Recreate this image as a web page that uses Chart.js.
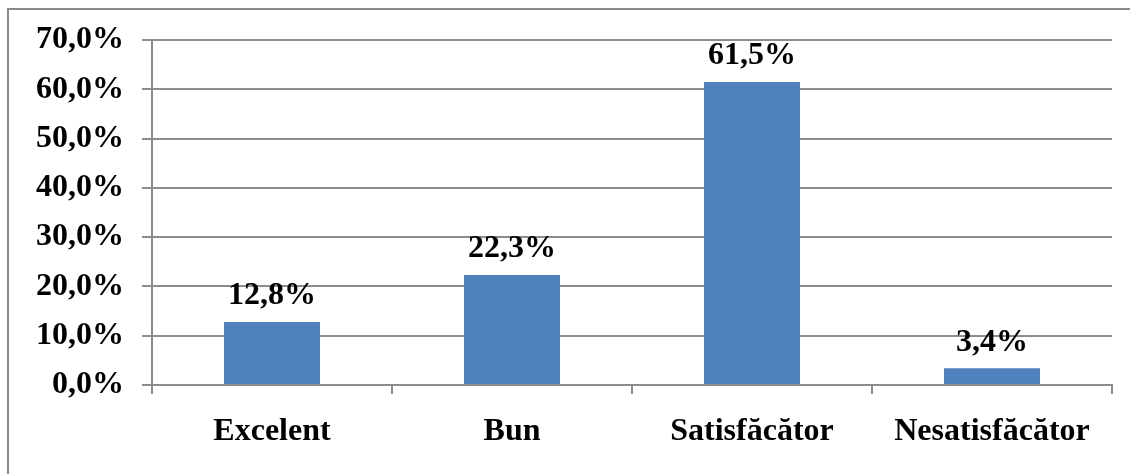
<!DOCTYPE html>
<html>
<head>
<meta charset="utf-8">
<script src="https://cdn.jsdelivr.net/npm/chart.js@4/dist/chart.umd.min.js"></script>
<style>
  html, body { margin: 0; padding: 0; background: #fff; overflow: hidden; }
  #frame { position: absolute; left: 7px; top: 8px; width: 1200px; height: 600px;
           border-left: 2px solid #8a8a8a; border-top: 2px solid #8a8a8a; }
  #wrap { position: absolute; left: 0; top: 0; width: 1130px; height: 474px; }
</style>
</head>
<body>
<div id="frame"></div>
<div id="wrap"><canvas id="chart" width="1130" height="474"></canvas></div>
<script>
// Kategorien und Werte (in %)
const categories = ['Excelent', 'Bun', 'Satisfăcător', 'Nesatisfăcător'];
const values = [12.8, 22.3, 61.5, 3.4];
const valueLabels = ['12,8%', '22,3%', '61,5%', '3,4%'];
const yTicks = [0, 10, 20, 30, 40, 50, 60, 70];

const fontFamily = '"Liberation Serif", "Times New Roman", serif';
const gridColor = '#8c8c8c';

// Beschriftung über den Balken
const barLabels = {
  id: 'barLabels',
  afterDatasetsDraw(chart) {
    const ctx = chart.ctx;
    const meta = chart.getDatasetMeta(0);
    ctx.save();
    ctx.font = 'bold 32px ' + fontFamily;
    ctx.fillStyle = '#000';
    ctx.textAlign = 'center';
    ctx.textBaseline = 'middle';
    meta.data.forEach((bar, i) => {
      ctx.fillText(valueLabels[i], bar.x, bar.y - 26);
    });
    ctx.restore();
  }
};

new Chart(document.getElementById('chart'), {
  type: 'bar',
  data: {
    labels: categories,
    datasets: [{
      data: values,
      backgroundColor: '#4f81bd',
      borderWidth: 0,
      categoryPercentage: 1,
      barPercentage: 0.4
    }]
  },
  options: {
    responsive: false,
    animation: false,
    devicePixelRatio: 1,
    layout: { padding: { top: 40, right: 18, left: 0, bottom: 0 } },
    plugins: { legend: { display: false }, tooltip: { enabled: false } },
    scales: {
      x: {
        grid: { drawOnChartArea: false, drawTicks: true, tickLength: 9, color: gridColor, lineWidth: 2 },
        border: { color: gridColor, width: 2 },
        ticks: { color: '#000', padding: 19, font: { family: fontFamily, size: 32, weight: 'bold' } },
        afterFit(scale) { scale.height = 89; }
      },
      y: {
        min: 0,
        max: 70,
        afterBuildTicks(scale) { scale.ticks = yTicks.map(v => ({ value: v })); },
        grid: { color: gridColor, lineWidth: 2, tickLength: 10 },
        border: { color: gridColor, width: 2 },
        ticks: {
          color: '#000',
          padding: 18,
          font: { family: fontFamily, size: 32, weight: 'bold' },
          callback: v => v.toFixed(1).replace('.', ',') + '%'
        },
        afterFit(scale) { scale.width = 152; }
      }
    }
  },
  plugins: [barLabels]
});
</script>
</body>
</html>
